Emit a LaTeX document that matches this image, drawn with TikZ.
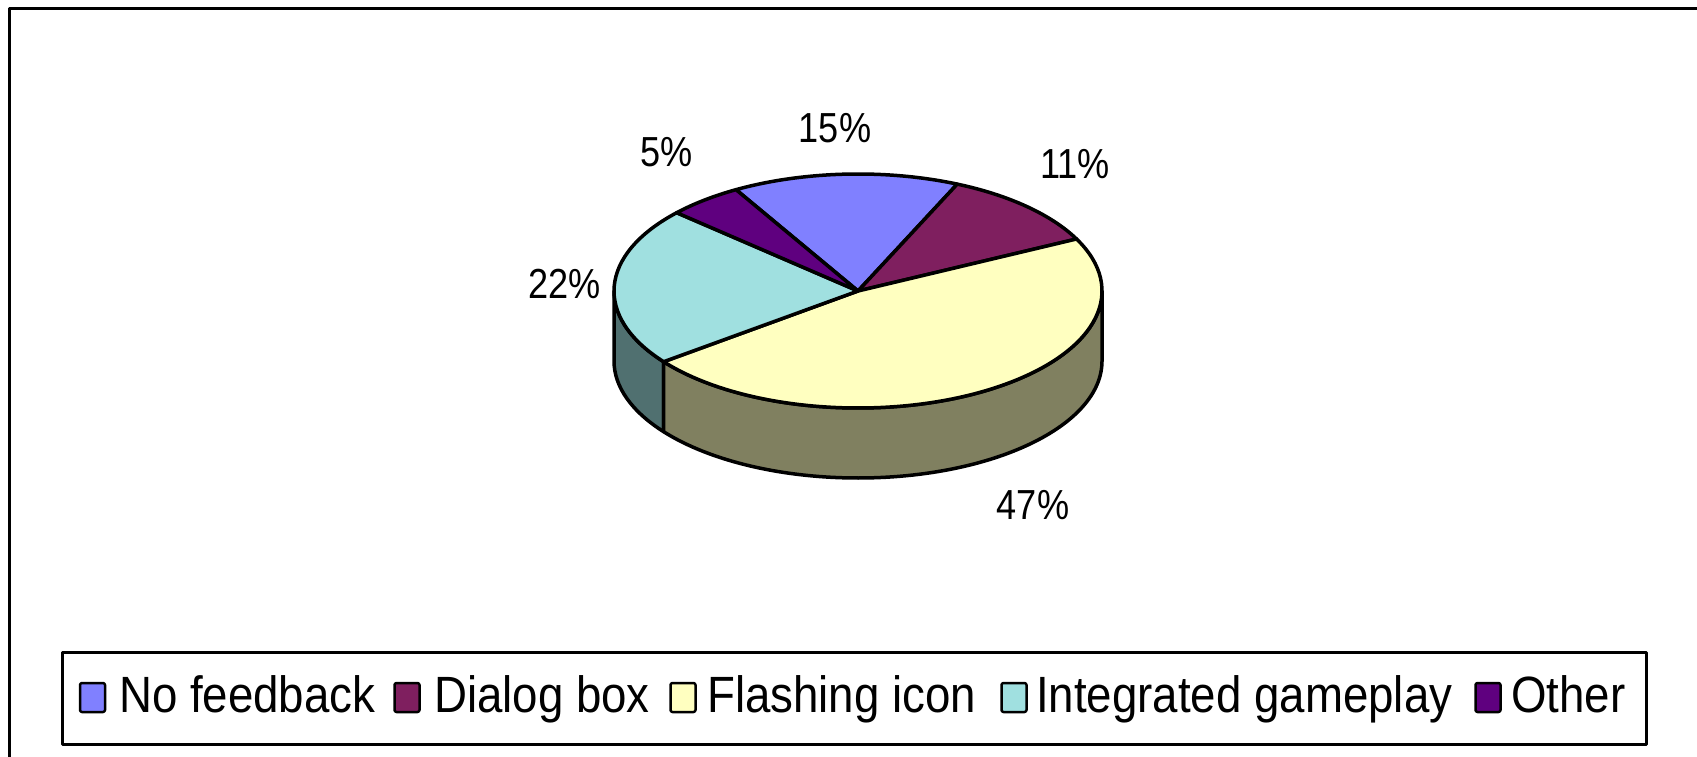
\documentclass[tikz,border=0pt]{standalone}
\usepackage{fontspec}
\setmainfont{Liberation Sans}

\definecolor{nofeedback}{HTML}{8080FF}
\definecolor{dialogbox}{HTML}{7F1F5F}
\definecolor{flashing}{HTML}{FFFFC0}
\definecolor{integrated}{HTML}{A0E0E0}
\definecolor{other}{HTML}{5F007F}
\definecolor{flashingside}{HTML}{808060}
\definecolor{integratedside}{HTML}{507070}

\begin{document}
\begin{tikzpicture}[
  x=1pt, y=1pt,
  line join=round,
  slice/.style={draw=black, line width=3.5pt},
  pct/.style={font=\fontsize{42}{42}\selectfont, xscale=0.86, inner sep=0pt},
  key/.style={draw=black, line width=2.5pt, rounded corners=2pt,
    minimum width=25pt, minimum height=29pt, inner sep=0pt},
  keytext/.style={font=\fontsize{51}{51}\selectfont, xscale=0.895,
    inner sep=0pt, anchor=base west}]
  \useasboundingbox (0,0) rectangle (1697,756);
  \clip (0,0) rectangle (1697,756);

  % chart area frame
  \draw[line width=3pt] (9.5,-20) rectangle (1720,747.5);

  % pie: centre of the top face, radii 244 and 117, depth 70
  \coordinate (top) at (858,465);

  % side walls
  \filldraw[slice, fill=integratedside] (top) ++(180:244 and 117)
    arc[start angle=180, end angle=217.2, x radius=244, y radius=117]
    -- ++(0,-70)
    arc[start angle=217.2, end angle=180, x radius=244, y radius=117]
    -- cycle;
  \filldraw[slice, fill=flashingside] (top) ++(217.2:244 and 117)
    arc[start angle=217.2, end angle=360, x radius=244, y radius=117]
    -- ++(0,-70)
    arc[start angle=360, end angle=217.2, x radius=244, y radius=117]
    -- cycle;

  % top face
  \filldraw[slice, fill=nofeedback] (top) -- ++(66:244 and 117)
    arc[start angle=66, end angle=120, x radius=244, y radius=117] -- cycle;
  \filldraw[slice, fill=dialogbox] (top) -- ++(26.4:244 and 117)
    arc[start angle=26.4, end angle=66, x radius=244, y radius=117] -- cycle;
  \filldraw[slice, fill=flashing] (top) -- ++(-142.8:244 and 117)
    arc[start angle=-142.8, end angle=26.4, x radius=244, y radius=117] -- cycle;
  \filldraw[slice, fill=integrated] (top) -- ++(138:244 and 117)
    arc[start angle=138, end angle=217.2, x radius=244, y radius=117] -- cycle;
  \filldraw[slice, fill=other] (top) -- ++(120:244 and 117)
    arc[start angle=120, end angle=138, x radius=244, y radius=117] -- cycle;

  % data labels
  \node[pct] (lnofeedback) at (835,628) {15\%};
  \node[pct] (ldialogbox) at (1075,592) {11\%};
  \node[pct] (lflashing) at (1033,251) {47\%};
  \node[pct] (lintegrated) at (564.5,472) {22\%};
  \node[pct] (lother) at (667,604) {5\%};

  % legend
  \draw[line width=3pt] (62,104) rectangle (1646,12);
  \node[key, fill=nofeedback] (knofeedback) at (92.5,58.5) {};
  \node[keytext] (tnofeedback) at (119,44) {No feedback};
  \node[key, fill=dialogbox] (kdialogbox) at (407,58.5) {};
  \node[keytext] (tdialogbox) at (434,44) {Dialog box};
  \node[key, fill=flashing] (kflashing) at (683,58.5) {};
  \node[keytext] (tflashing) at (707,44) {Flashing icon};
  \node[key, fill=integrated] (kintegrated) at (1014,58.5) {};
  \node[keytext] (tintegrated) at (1036,44) {Integrated gameplay};
  \node[key, fill=other] (kother) at (1488,58.5) {};
  \node[keytext] (tother) at (1511,44) {Other};
\end{tikzpicture}
\end{document}
